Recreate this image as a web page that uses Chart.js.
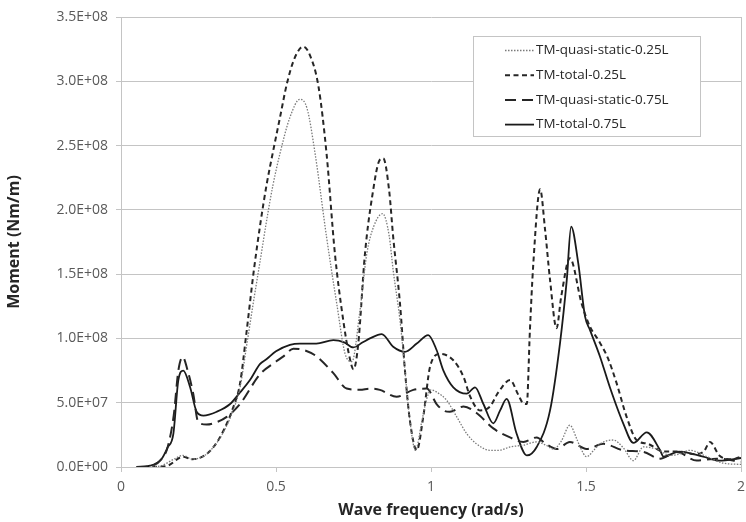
<!DOCTYPE html>
<html>
  <head>
    <meta charset="UTF-8" />
    <title>Moment vs wave frequency</title>
    <script src="https://cdn.jsdelivr.net/npm/chart.js"></script>
    <style>
      body {
        margin: 0;
        background: #fff;
      }
      canvas {
        display: block;
      }
    </style>
  </head>
  <body>
    <canvas id="momentChart" width="746" height="522"></canvas>

    <script>
      // values, moment in 1e6 Nm/m
      const seriesLabels = [
        "TM-quasi-static-0.25L",
        "TM-total-0.25L",
        "TM-quasi-static-0.75L",
        "TM-total-0.75L",
      ];

      const freqQs25 = [0.1, 0.13, 0.17, 0.2, 0.23, 0.27, 0.3, 0.33, 0.36, 0.384, 0.405, 0.427, 0.45, 0.47, 0.49, 0.513, 0.545, 0.577, 0.6, 0.626, 0.663, 0.696, 0.723, 0.745, 0.77, 0.793, 0.815, 0.844, 0.865, 0.878, 0.9, 0.916, 0.93, 0.95, 0.97, 0.985, 1.0, 1.02, 1.05, 1.083, 1.115, 1.147, 1.19, 1.22, 1.255, 1.298, 1.341, 1.37, 1.395, 1.42, 1.448, 1.47, 1.481, 1.502, 1.525, 1.545, 1.588, 1.62, 1.653, 1.685, 1.728, 1.771, 1.8, 1.835, 1.89, 1.943, 2.0];
      const momentQs25 = [0, 1, 6, 9, 6, 9, 16, 27, 43, 62, 94, 128, 162, 192, 219, 244, 272, 286, 279, 244, 179, 127, 88, 82, 120, 166, 187, 197, 180, 153, 114, 75, 40, 13, 35, 52, 60, 58, 52, 39, 26, 18, 13, 13, 15.6, 17, 19.5, 17, 14, 20, 32.5, 22, 15.6, 8, 13, 18, 21, 15, 5, 15.6, 14, 9, 10, 13, 8, 3, 2];

      const freqTot25 = [0.1, 0.15, 0.2, 0.23, 0.27, 0.3, 0.33, 0.36, 0.384, 0.405, 0.427, 0.45, 0.47, 0.491, 0.513, 0.535, 0.56, 0.588, 0.61, 0.637, 0.663, 0.69, 0.717, 0.735, 0.75, 0.765, 0.787, 0.81, 0.835, 0.846, 0.865, 0.878, 0.9, 0.916, 0.932, 0.954, 0.975, 0.997, 1.029, 1.072, 1.105, 1.126, 1.158, 1.19, 1.217, 1.255, 1.282, 1.298, 1.309, 1.319, 1.33, 1.352, 1.368, 1.384, 1.405, 1.42, 1.448, 1.486, 1.513, 1.54, 1.57, 1.599, 1.631, 1.663, 1.7, 1.75, 1.8, 1.85, 1.88, 1.9, 1.93, 1.97, 2.0];
      const momentTot25 = [0, 1, 8, 6, 9, 16, 28, 45, 65, 105, 150, 190, 220, 246, 272, 298, 318, 327, 320, 296, 244, 166, 114, 88, 76, 95, 166, 210, 239, 240, 215, 179, 127, 75, 36, 13, 39, 78, 88, 83, 70, 55, 44, 47, 58, 67.6, 56, 49.4, 49, 106, 158, 216, 184.5, 145.5, 108, 132.5, 162.4, 127, 109, 98.7, 85, 65, 39, 21, 18, 12, 12, 10, 12, 19.5, 9, 6, 8];

      const freqQs75 = [0.05, 0.1, 0.13, 0.15, 0.17, 0.185, 0.199, 0.215, 0.233, 0.249, 0.276, 0.31, 0.341, 0.384, 0.448, 0.5, 0.524, 0.556, 0.59, 0.631, 0.685, 0.728, 0.771, 0.803, 0.835, 0.889, 0.943, 0.986, 1.018, 1.04, 1.061, 1.105, 1.147, 1.201, 1.255, 1.298, 1.341, 1.37, 1.406, 1.448, 1.502, 1.556, 1.62, 1.685, 1.739, 1.793, 1.857, 1.922, 2.0];
      const momentQs75 = [0, 1, 6, 15, 40, 75, 85.7, 75, 57, 35, 33, 35, 39, 49, 72, 82, 86, 92, 91, 86, 73, 61, 60, 61, 60, 54.6, 60, 61, 49, 44, 43, 47, 42, 30, 23, 19.5, 23, 18, 14, 19.5, 14, 18, 13, 11.7, 6.5, 11.7, 5, 6.5, 4];

      const freqTot75 = [0.05, 0.094, 0.13, 0.15, 0.169, 0.185, 0.201, 0.223, 0.244, 0.266, 0.309, 0.352, 0.384, 0.416, 0.448, 0.47, 0.5, 0.545, 0.577, 0.63, 0.685, 0.72, 0.749, 0.78, 0.803, 0.841, 0.878, 0.916, 0.954, 0.991, 1.018, 1.04, 1.072, 1.115, 1.142, 1.169, 1.201, 1.223, 1.244, 1.276, 1.309, 1.341, 1.384, 1.416, 1.438, 1.452, 1.475, 1.497, 1.513, 1.545, 1.577, 1.62, 1.653, 1.696, 1.739, 1.75, 1.8, 1.878, 1.93, 2.0];
      const momentTot75 = [0, 1, 6, 15, 26, 67.6, 75, 62, 43, 40, 43, 49, 58, 67.6, 80, 84, 90, 95, 96, 96, 98.7, 97, 93, 97, 100, 103.4, 93.5, 89.6, 96, 102.6, 91, 75, 62, 57, 62, 49, 34, 44, 53, 26, 9, 15.6, 44, 96, 145.5, 187, 158.5, 117, 106.5, 86, 62, 34, 18.7, 27, 13, 8, 12, 8, 5, 7];

      const xTicks = [0, 0.5, 1, 1.5, 2];
      const yMax = 350;
      const yStep = 50;

      function toPoints(fs, ms) {
        return fs.map((f, i) => ({ x: f, y: ms[i] }));
      }

      // Excel style scientific labels, e.g. 3.5E+08
      function sci(v) {
        if (v === 0) return "0.0E+00";
        const val = v * 1e6;
        const exp = Math.floor(Math.log10(val));
        const mant = val / Math.pow(10, exp);
        return mant.toFixed(1) + "E+" + String(exp).padStart(2, "0");
      }

      const lineStyles = [
        { color: "#7a7a7a", width: 1.3, dash: [1.5, 1.5] },
        { color: "#262626", width: 2, dash: [5, 3.5] },
        { color: "#262626", width: 2, dash: [11, 6] },
        { color: "#1a1a1a", width: 1.8, dash: [] },
      ];
      const seriesData = [
        toPoints(freqQs25, momentQs25),
        toPoints(freqTot25, momentTot25),
        toPoints(freqQs75, momentQs75),
        toPoints(freqTot75, momentTot75),
      ];

      // plot frame on the right plus legend box inside the plot
      const frameAndLegend = {
        id: "frameAndLegend",
        afterDraw(chart) {
          const { ctx, chartArea } = chart;
          ctx.save();
          ctx.strokeStyle = "#c4c4c4";
          ctx.lineWidth = 1;
          ctx.beginPath();
          ctx.moveTo(chartArea.right + 0.5, chartArea.top);
          ctx.lineTo(chartArea.right + 0.5, chartArea.bottom);
          ctx.stroke();

          const bx = chartArea.left + 352;
          const by = chartArea.top + 19;
          ctx.fillStyle = "#fff";
          ctx.fillRect(bx, by, 227, 100);
          ctx.strokeStyle = "#c4c4c4";
          ctx.strokeRect(bx + 0.5, by + 0.5, 227, 100);

          ctx.font = "13.4px 'Open Sans', sans-serif";
          ctx.textBaseline = "middle";
          chart.data.datasets.forEach((ds, i) => {
            const y = by + 14.5 + i * 24.7;
            ctx.strokeStyle = ds.borderColor;
            ctx.lineWidth = ds.borderWidth;
            ctx.setLineDash(ds.borderDash);
            ctx.beginPath();
            ctx.moveTo(bx + 32, y);
            ctx.lineTo(bx + 61, y);
            ctx.stroke();
            ctx.setLineDash([]);
            ctx.fillStyle = "#262626";
            ctx.fillText(ds.label, bx + 63, y);
          });
          ctx.restore();
        },
      };

      Chart.defaults.font.family = "'Open Sans', sans-serif";

      new Chart(document.getElementById("momentChart"), {
        type: "line",
        data: {
          datasets: seriesLabels.map((label, i) => ({
            label: label,
            data: seriesData[i],
            borderColor: lineStyles[i].color,
            borderWidth: lineStyles[i].width,
            borderDash: lineStyles[i].dash,
            pointRadius: 0,
            fill: false,
            cubicInterpolationMode: "monotone",
          })),
        },
        options: {
          responsive: false,
          animation: false,
          layout: { padding: { top: 17, right: 5, left: 0, bottom: 0 } },
          plugins: {
            legend: { display: false },
            tooltip: { enabled: false },
          },
          scales: {
            x: {
              type: "linear",
              min: 0,
              max: 2,
              afterBuildTicks: (s) => {
                s.ticks = xTicks.map((v) => ({ value: v }));
              },
              afterFit: (s) => {
                s.height = 55;
                s.paddingLeft = 0;
                s.paddingRight = 0;
              },
              grid: {
                drawOnChartArea: false,
                drawTicks: true,
                tickLength: 5,
                color: "#c4c4c4",
              },
              border: { color: "#c4c4c4" },
              ticks: {
                color: "#595959",
                font: { size: 14 },
                padding: 7,
                maxRotation: 0,
                callback: (v) => String(v),
              },
              title: {
                display: true,
                text: "Wave frequency (rad/s)",
                color: "#262626",
                font: { size: 16, weight: "bold" },
                padding: { top: 0, bottom: 2 },
              },
            },
            y: {
              min: 0,
              max: yMax,
              afterFit: (s) => {
                s.width = 121;
              },
              grid: {
                color: "#c4c4c4",
                tickLength: 5,
              },
              border: { color: "#c4c4c4" },
              ticks: {
                stepSize: yStep,
                color: "#595959",
                font: { size: 14 },
                padding: 8,
                callback: (v) => sci(v),
              },
              title: {
                display: true,
                text: "Moment (Nm/m)",
                color: "#262626",
                font: { size: 16, weight: "bold" },
                padding: { top: 5, bottom: 0 },
              },
            },
          },
        },
        plugins: [frameAndLegend],
      });
    </script>
  </body>
</html>
